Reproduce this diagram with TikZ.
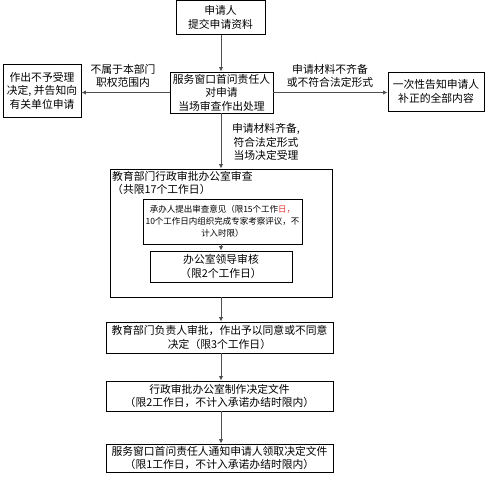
\documentclass[tikz,border=0pt]{standalone}
\usepackage{fontspec}
\setmainfont{Noto Sans CJK SC}
\usetikzlibrary{arrows.meta}
\definecolor{linegray}{HTML}{505050}
\definecolor{hired}{HTML}{E03030}
\tikzset{
  box/.style={draw=black, line width=0.9pt, rectangle, align=center, inner sep=1pt,
    font=\fontsize{10.8}{13.5}\selectfont},
  lbl/.style={align=center, inner sep=0pt, font=\fontsize{10.8}{13.5}\selectfont},
  arr/.style={draw=linegray, line width=1pt, -{Latex[length=4.5pt,width=4.5pt]}},
}
\begin{document}
\begin{tikzpicture}[x=1pt,y=-1pt]
\useasboundingbox (0,0) rectangle (491,488);
\node[box, minimum width=89pt, minimum height=34pt] (b1) at (220.5,17.5) {申请人\\提交申请资料};
\node[box, minimum width=103pt, minimum height=41pt] (b2) at (221.5,92.5) {服务窗口首问责任人\\对申请\\当场审查作出处理};
\node[box, minimum width=78pt, minimum height=53pt] (lb) at (42,90.5) {作出不予受理\\决定, 并告知向\\有关单位申请};
\node[box, minimum width=96pt, minimum height=39pt] (rb) at (436,91.5) {一次性告知申请人\\补正的全部内容};
\node[lbl] (ll) at (123,76) {不属于本部门\\职权范围内};
\node[lbl] (rl) at (330,76) {申请材料不齐备\\或不符合法定形式};
\node[lbl] (dl) at (266,142) {申请材料齐备,\\符合法定形式\\当场决定受理};
\node[draw=black, line width=0.9pt, minimum width=222pt, minimum height=128pt] (big) at (221,233) {};
\node[lbl, align=left, anchor=north west] (bt) at (112,171) {教育部门行政审批办公室审查\\（共限17个工作日）};
\node[box, minimum width=159pt, minimum height=45pt, text width=157pt,
  font=\fontsize{8.5}{12}\selectfont] (i1) at (222.5,221.5)
  {承办人提出审查意见（限15个工作\textcolor{hired}{日，}\\10个工作日内组织完成专家考察评议，不\\计入时限）};
\node[box, minimum width=142pt, minimum height=31pt] (i2) at (221,266.5) {办公室领导审核\\（限2个工作日）};
\node[box, minimum width=227pt, minimum height=31pt] (c1) at (219.5,337.5) {教育部门负责人审批，作出予以同意或不同意\\决定（限3个工作日）};
\node[box, minimum width=227pt, minimum height=30pt] (c2) at (219.5,396) {行政审批办公室制作决定文件\\（限2工作日，不计入承诺办结时限内）};
\node[box, minimum width=227pt, minimum height=28pt] (c3) at (219.5,458) {服务窗口首问责任人通知申请人领取决定文件\\（限1工作日，不计入承诺办结时限内）};
\coordinate (vx) at (221,0);
\draw[arr] (vx |- b1.south) -- (vx |- b2.north);
\draw[arr] (b2.west) -- (b2.west -| lb.east);
\draw[arr] (b2.east) -- (b2.east -| rb.west);
\draw[arr] (vx |- b2.south) -- (vx |- big.north);
\draw[arr] (vx |- i1.south) -- (vx |- i2.north);
\draw[arr] (vx |- big.south) -- (vx |- c1.north);
\draw[arr] (vx |- c1.south) -- (vx |- c2.north);
\draw[arr] (vx |- c2.south) -- (vx |- c3.north);
\end{tikzpicture}
\end{document}
